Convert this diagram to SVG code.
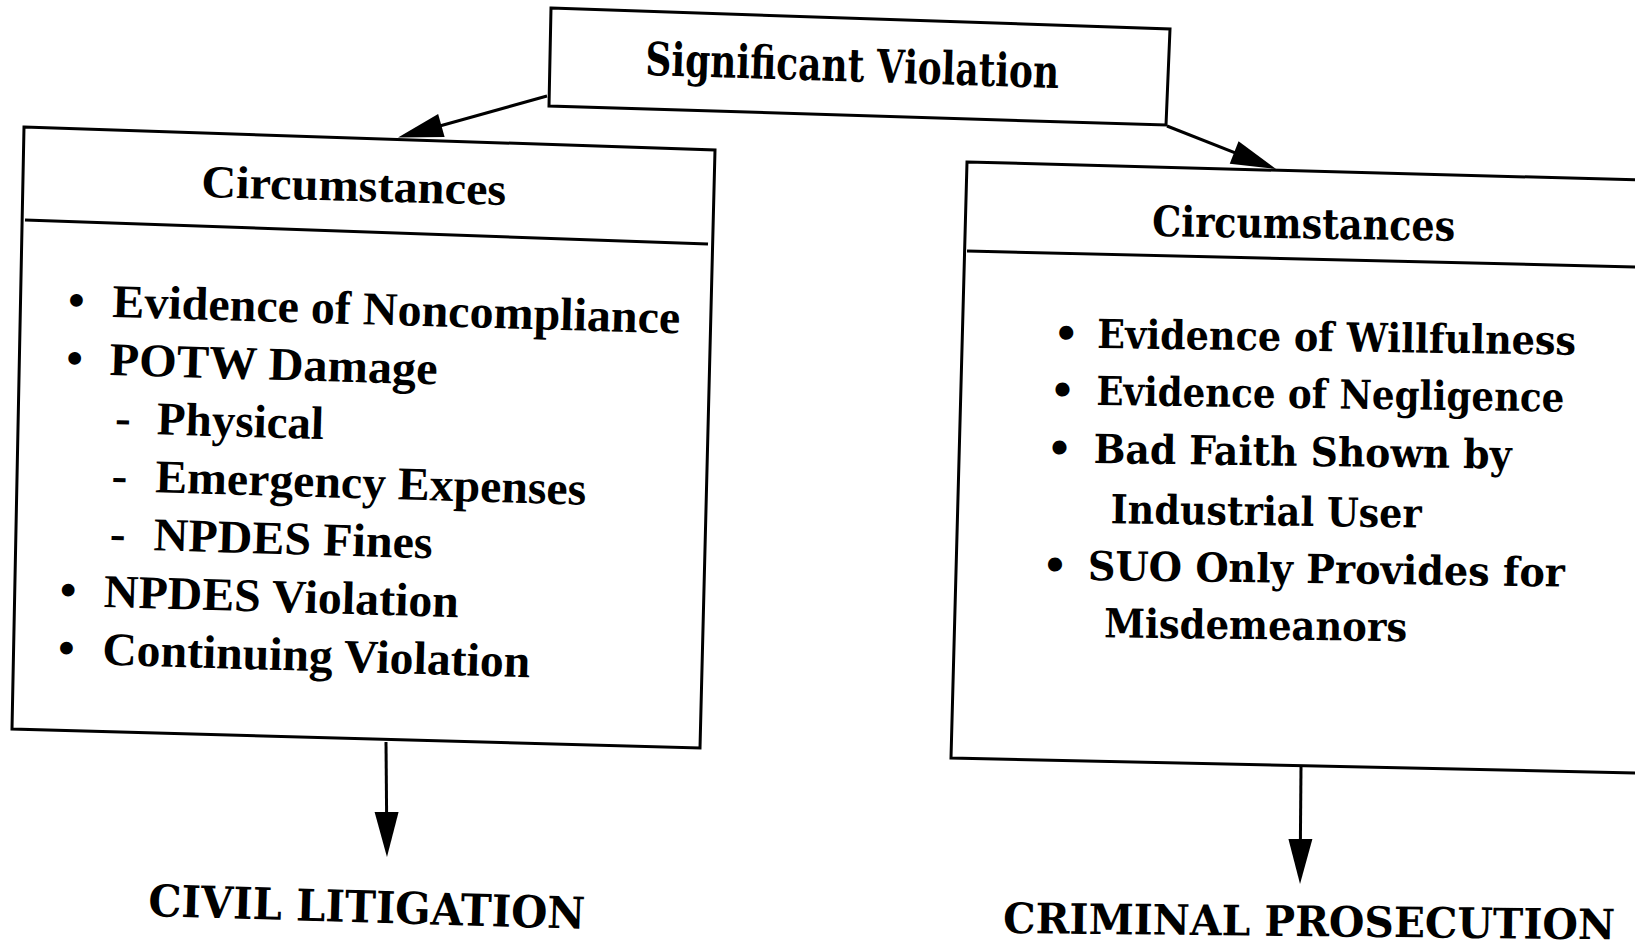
<svg xmlns="http://www.w3.org/2000/svg" width="1635" height="952" viewBox="0 0 1635 952">
  <style>
    .box { fill: none; stroke: #000; stroke-width: 3; stroke-linejoin: miter; }
    .div { stroke: #000; stroke-width: 3; }
    .tm { font-family: "Liberation Serif", "Times New Roman", serif; font-weight: bold; fill: #000; }
    .cs { font-family: "DejaVu Serif", "Liberation Serif", serif; font-weight: bold; fill: #000; }
    .l47 { font-size: 47px; }
    .r40 { font-size: 40px; }
    .conn line { stroke: #000; stroke-width: 3; fill: none; marker-end: url(#ah); }
  </style>
  <defs>
    <marker id="ah" markerUnits="userSpaceOnUse" viewBox="-26 -13 47 26" refX="0" refY="0" markerWidth="47" markerHeight="26" orient="auto">
      <path d="M20,0 L-25,-12 L-25,12 Z" fill="#000"/>
    </marker>
  </defs>
  <rect x="0" y="0" width="1635" height="952" fill="#fff"/>

  <g id="connectors" class="conn">
    <line x1="547" y1="96" x2="417.3" y2="132.2"/>
    <line x1="1167" y1="126" x2="1257.4" y2="161.7"/>
    <line x1="386" y1="742" x2="386.8" y2="837"/>
    <line x1="1301" y1="767" x2="1300.2" y2="864"/>
  </g>

  <g id="significant-violation">
    <polygon class="box" points="551,8 1170,29 1166,125 549,106"/>
    <text class="cs" x="645" y="75" font-size="46" textLength="414" lengthAdjust="spacingAndGlyphs" transform="rotate(1.8 645 75)">Significant Violation</text>
  </g>

  <g id="civil-circumstances">
    <polygon class="box" points="24,127 715,150 700,748 12,729"/>
    <line class="div" x1="25" y1="220" x2="708" y2="244"/>
    <text class="tm" x="201" y="197" font-size="46" textLength="305" lengthAdjust="spacingAndGlyphs" transform="rotate(1.5 201 197)">Circumstances</text>
    <g class="tm l47" transform="rotate(1.66 112 317)">
      <text x="76" y="317" text-anchor="middle">•</text>
      <text x="112" y="317" textLength="568" lengthAdjust="spacingAndGlyphs">Evidence of Noncompliance</text>
      <text x="76" y="375" text-anchor="middle">•</text>
      <text x="111" y="375" textLength="328" lengthAdjust="spacingAndGlyphs">POTW Damage</text>
      <text x="126" y="433" text-anchor="middle">-</text>
      <text x="160" y="433" textLength="167" lengthAdjust="spacingAndGlyphs">Physical</text>
      <text x="124" y="491" text-anchor="middle">-</text>
      <text x="160" y="491" textLength="431" lengthAdjust="spacingAndGlyphs">Emergency Expenses</text>
      <text x="124" y="549" text-anchor="middle">-</text>
      <text x="160" y="549" textLength="279" lengthAdjust="spacingAndGlyphs">NPDES Fines</text>
      <text x="76" y="607" text-anchor="middle">•</text>
      <text x="112" y="607" textLength="355" lengthAdjust="spacingAndGlyphs">NPDES Violation</text>
      <text x="76" y="665" text-anchor="middle">•</text>
      <text x="112" y="665" textLength="428" lengthAdjust="spacingAndGlyphs">Continuing Violation</text>
    </g>
  </g>

  <g id="criminal-circumstances">
    <polygon class="box" points="967,162 1680,181 1680,774 951,758"/>
    <line class="div" x1="967" y1="251" x2="1680" y2="268"/>
    <text class="cs" x="1152" y="236" font-size="42" textLength="303" lengthAdjust="spacingAndGlyphs" transform="rotate(0.9 1152 236)">Circumstances</text>
    <g class="cs r40" transform="rotate(0.8 1097 348)">
      <text x="1066" y="348" text-anchor="middle">•</text>
      <text x="1097" y="348" textLength="479" lengthAdjust="spacingAndGlyphs">Evidence of Willfulness</text>
      <text x="1063" y="405" text-anchor="middle">•</text>
      <text x="1097" y="405" textLength="468" lengthAdjust="spacingAndGlyphs">Evidence of Negligence</text>
      <text x="1061" y="463" text-anchor="middle">•</text>
      <text x="1095" y="463" textLength="418" lengthAdjust="spacingAndGlyphs">Bad Faith Shown by</text>
      <text x="1113" y="523" textLength="311" lengthAdjust="spacingAndGlyphs">Industrial User</text>
      <text x="1058" y="580" text-anchor="middle">•</text>
      <text x="1091" y="580" textLength="477" lengthAdjust="spacingAndGlyphs">SUO Only Provides for</text>
      <text x="1108" y="637" textLength="303" lengthAdjust="spacingAndGlyphs">Misdemeanors</text>
    </g>
  </g>

  <g id="civil-litigation">
    <text class="cs" x="148" y="916" font-size="44" textLength="437" lengthAdjust="spacingAndGlyphs" transform="rotate(1.7 148 916)">CIVIL LITIGATION</text>
  </g>

  <g id="criminal-prosecution">
    <text class="cs" x="1003" y="933" font-size="42" textLength="612" lengthAdjust="spacingAndGlyphs" transform="rotate(0.6 1003 933)">CRIMINAL PROSECUTION</text>
  </g>
</svg>
